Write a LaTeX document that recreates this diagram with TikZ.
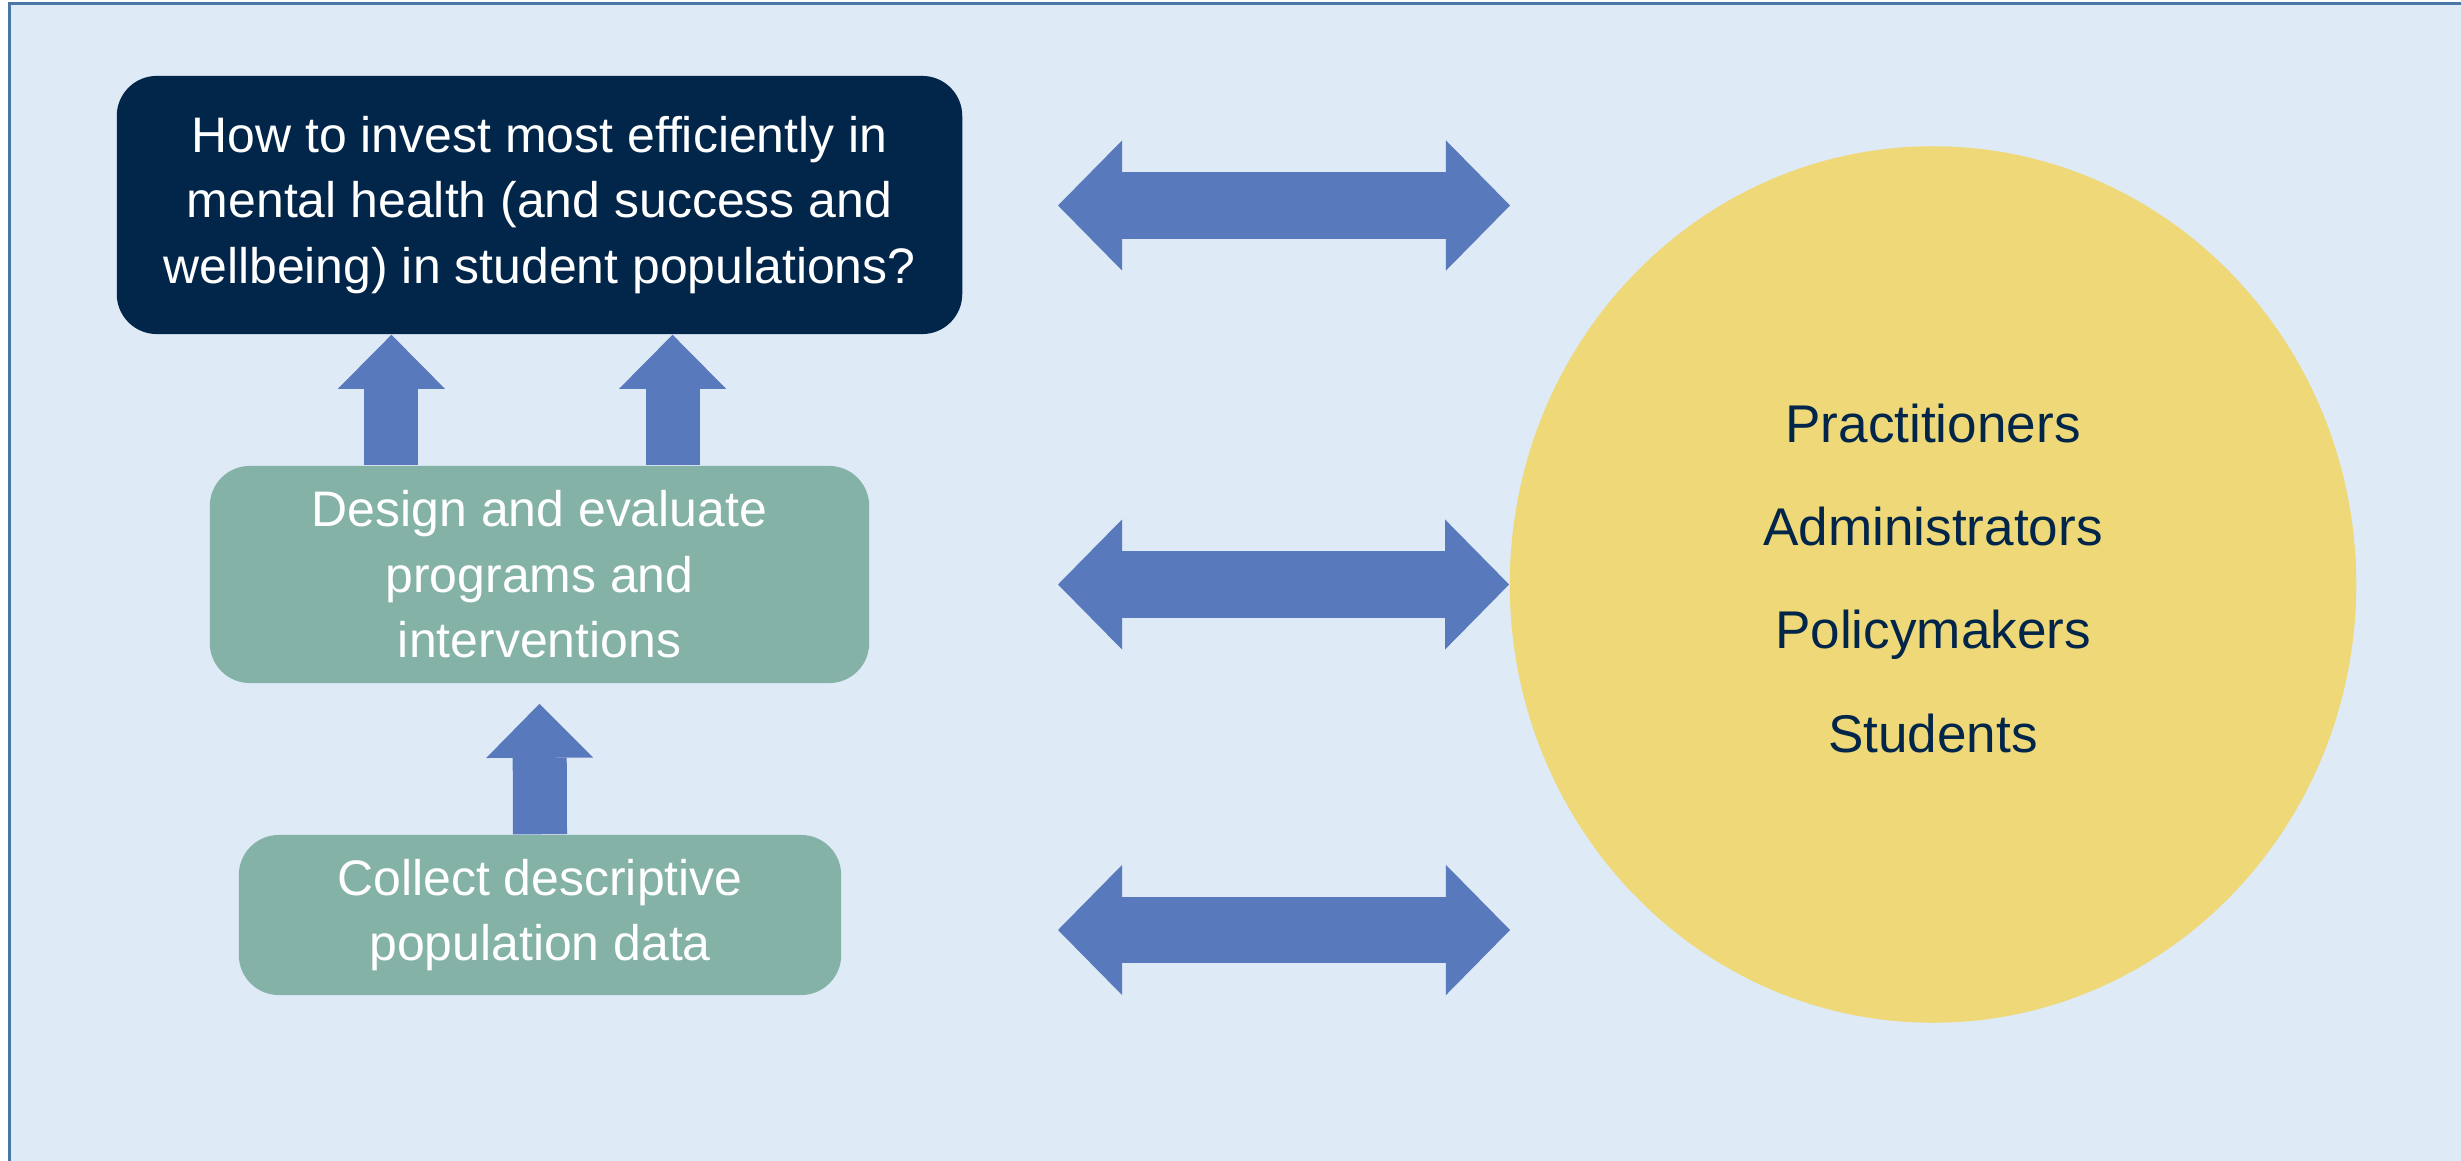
\documentclass[tikz,border=0pt]{standalone}
\usepackage{fontspec}
\setmainfont{Liberation Sans}
\usetikzlibrary{arrows.meta,shapes.geometric,positioning,calc}
\definecolor{mybg}{RGB}{222,234,246}
\definecolor{myframe}{RGB}{74,119,168}
\definecolor{mynavy}{RGB}{2,37,74}
\definecolor{mygreen}{RGB}{132,178,166}
\definecolor{myyellow}{RGB}{238,216,120}
\definecolor{myblue}{RGB}{89,121,189}

\begin{document}
\begin{tikzpicture}[
  x=0.01cm, y=-0.01cm,
  mybox/.style={
    rounded corners=0.4cm,
    inner sep=0pt,
    align=center,
    text=white,
    font=\fontsize{14.2}{18.6}\selectfont
  },
  myup/.style={
    myblue,
    line width=0.54cm,
    -{Triangle[width=1.07cm,length=0.54cm,line width=0pt]}
  },
  mytwoway/.style={
    myblue,
    line width=0.66cm,
    {Triangle[width=1.30cm,length=0.64cm,line width=0pt]}-{Triangle[width=1.30cm,length=0.64cm,line width=0pt]}
  }
]

\fill[white] (0,0) rectangle (2461,1161);
\useasboundingbox (0,0) rectangle (2461,1161);
\fill[mybg] (9.5,3.5) rectangle (2480,1180);
\draw[myframe, line width=0.025cm] (9.5,3.5) rectangle (2480,1180);

\node[mybox, fill=mynavy, minimum width=8.45cm, minimum height=2.58cm]
  (quest) at (539.5,205)
  {How to invest most efficiently in\\ mental health (and success and\\ wellbeing) in student populations?};
\node[mybox, fill=mygreen, minimum width=6.59cm, minimum height=2.17cm]
  (design) at (539.5,574.5)
  {Design and evaluate\\ programs and\\ interventions};
\node[mybox, fill=mygreen, minimum width=6.02cm, minimum height=1.60cm]
  (collect) at (540,915)
  {Collect descriptive\\ population data};
\node[ellipse, fill=myyellow, minimum width=8.46cm, minimum height=8.76cm, inner sep=0pt]
  (groups) at (1933,584.5) {};
\node[align=center, text=mynavy, font=\fontsize{15.1}{29.3}\selectfont]
  (grouptext) at ([yshift=0.06cm]groups.center)
  {Practitioners\\ Administrators\\ Policymakers\\ Students};

\draw[myup] ([xshift=-1.48cm]design.north) -- ([xshift=-1.48cm]quest.south);
\draw[myup] ([xshift=1.33cm]design.north) -- ([xshift=1.33cm]quest.south);
\draw[myup] (collect.north) -- ([yshift=-0.2cm]design.south);

\coordinate (left1) at (1058,205.5);
\coordinate (right1) at (1510,205.5);
\coordinate (left2) at (1058,584.5);
\coordinate (left3) at (1058,930);
\coordinate (right3) at (1510,930);
\draw[mytwoway] (left1) -- (right1);
\draw[mytwoway] (left2) -- (groups.west);
\draw[mytwoway] (left3) -- (right3);

\end{tikzpicture}
\end{document}
